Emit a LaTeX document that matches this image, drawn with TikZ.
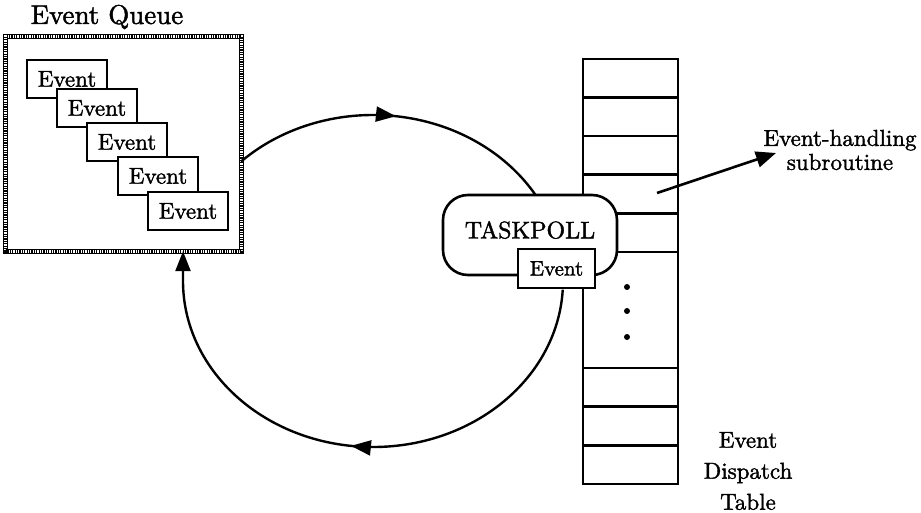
\documentclass[tikz,border=0pt]{standalone}
\usepackage{fontspec}
\setmainfont{lmroman10-regular.otf}[BoldFont=lmroman10-regular.otf, BoldFeatures={FakeBold=1.6}]
\usetikzlibrary{arrows.meta,decorations.markings}
\begin{document}
\begin{tikzpicture}[x=1pt,y=-1pt,
  evbox/.style={draw, line width=2.6pt, fill=white, minimum width=80pt, minimum height=38pt, inner sep=0pt, font=\fontsize{23}{23}\selectfont\bfseries},
  loopline/.style={line width=2.4pt},
  bigtip/.style={-{Triangle[length=20pt,width=15pt]}},
  tbl/.style={line width=2.6pt},
  midarrow/.style={postaction={decorate}, decoration={markings, mark=at position #1 with {\arrow{Triangle[length=20pt,width=15pt]}}}},
]
\useasboundingbox (0,0) rectangle (921,513);

% title
\node[font=\fontsize{27}{27}\selectfont\bfseries] (qtitle) at (107,17) {Event Queue};

% queue box
\node[minimum width=235pt, minimum height=214pt, inner sep=0pt] (queue) at (123.5,144) {};
\draw[line width=3.6pt, dash pattern=on 1.2pt off 1.2pt] (queue.north west) rectangle (queue.south east);
\draw[line width=0.7pt] ([shift={(-2,-2)}]queue.north west) rectangle ([shift={(2,2)}]queue.south east);
\draw[line width=0.7pt] ([shift={(2,2)}]queue.north west) rectangle ([shift={(-2,-2)}]queue.south east);

% events in queue
\node[evbox] (e1) at (67,79) {Event};
\node[evbox] (e2) at (97,108) {Event};
\node[evbox] (e3) at (127,142) {Event};
\node[evbox] (e4) at (158,176) {Event};
\node[evbox] (e5) at (188,211) {Event};

% dispatch table
\draw[tbl] (583,59) rectangle (678,484);
\foreach \yy in {97.6,136.2,174.8,213.4,252,368,406.6,445.2}
  \draw[tbl] (583,\yy) -- (678,\yy);
\foreach \yy in {287,311,337}
  \fill (627,\yy) circle (3pt);

% TASKPOLL
\node[draw, rounded corners=25pt, line width=2.6pt, fill=white, minimum width=174pt, minimum height=80pt, inner sep=0pt] (tp) at (530,235) {};
\node[font=\fontsize{24}{24}\selectfont\bfseries, inner sep=0pt] (tplabel) at ([yshift=5pt]tp.center) {TASKPOLL};
\node[evbox, minimum width=77pt, minimum height=39pt, font=\fontsize{21}{21}\selectfont\bfseries] (tpev) at (556.5,268.5) {Event};

% loop
\coordinate (ell) at (373,281);
\draw[loopline, midarrow=0.5] (ell) ++(226:190 and 166) arc[start angle=226, end angle=329, x radius=190, y radius=166];
\draw[loopline, midarrow=0.505, bigtip] (ell) ++(3:190 and 166) arc[start angle=3, end angle=180, x radius=190, y radius=166] -- (queue.south -| 183,0);

% event-handling
\coordinate (eh) at (657,193);
\coordinate (ehtip) at (776,153);
\node[font=\fontsize{23}{24}\selectfont\bfseries, align=center] (ehl) at (840,150) {Event-handling\\subroutine};
\draw[line width=2.6pt, -{Triangle[length=20pt,width=16pt]}] (eh) -- (ehtip);

% table label
\node[font=\fontsize{23}{31}\selectfont\bfseries, align=center] (dtl) at (748,471) {Event\\Dispatch\\Table};
\end{tikzpicture}
\end{document}
